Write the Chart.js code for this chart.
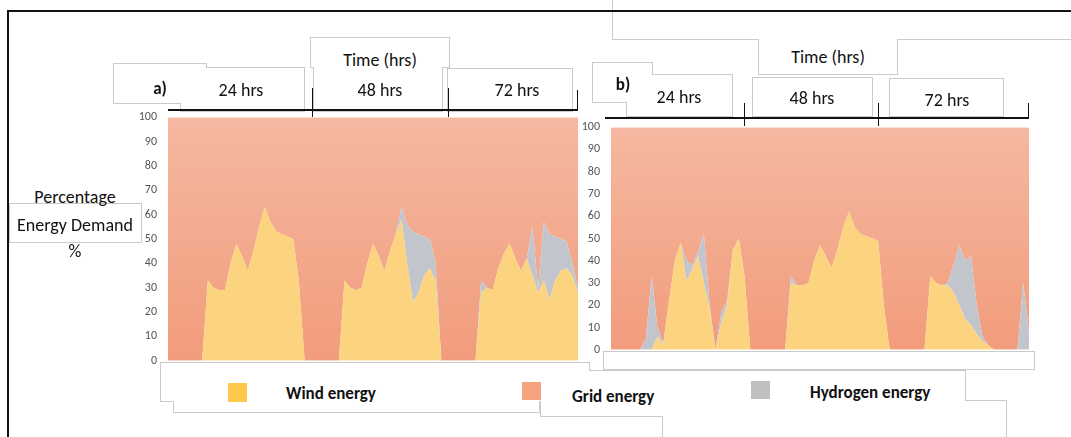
<!DOCTYPE html>
<html>
<head>
<meta charset="utf-8">
<script src="https://cdn.jsdelivr.net/npm/chart.js@4.4.1/dist/chart.umd.min.js"></script>
<style>
  html, body { margin:0; padding:0; background:#fff; }
  body { width:1071px; height:437px; position:relative; overflow:hidden;
         font-family:"Carlito","Liberation Sans Narrow","Liberation Sans",sans-serif; color:#111; }
  .bx { position:absolute; box-sizing:border-box; border:1px solid #cbcbcb; background:#fff; }
  .fl { position:absolute; background:#fff; }
  .t { position:absolute; white-space:nowrap; transform:translate(-50%,-50%); font-size:18px; line-height:1; z-index:5; }
  .tl { position:absolute; white-space:nowrap; transform:translate(0,-50%); font-size:17px; font-weight:bold; line-height:1; z-index:5; }
  canvas { position:absolute; z-index:3; }
  .ln { position:absolute; background:#111; z-index:4; }
</style>
</head>
<body>
<canvas id="ca" width="460" height="280" style="left:120px; top:99px;"></canvas>
<canvas id="cb" width="471" height="259" style="left:560px; top:109px;"></canvas>
<script>
// ---------- data (hourly, 0..72 h) ----------
const hours = Array.from({length: 73}, (_, i) => String(i));
const yTicks = [0,10,20,30,40,50,60,70,80,90,100];

// a) scenario
const aWind = [0,0,0,0,0,0,0,
  33,30,29,29,40,48,43,37,45,55,63,57,53,52,51,50,32,
  0,0,0,0,0,0,0,
  33,30,29,30,40,48,43,37,45,52,58,40,24,28,35,38,33,
  0,0,0,0,0,0,0,
  28,30,29,38,44,48,42,37,42,35,28,33,25,33,37,38,35,28];
const aHydrogen = [0,0,0,0,0,0,0,
  0,0,0,0,0,0,0,0,0,0,0,0,0,0,0,0,0,
  0,0,0,0,0,0,0,
  0,0,0,0,0,0,0,0,0,0,5,16,29,24,16,12,7,
  0,0,0,0,0,0,0,
  5,0,0,0,0,0,0,0,0,20,2,24,27,18,13,11,5,2];
const aGrid = [100,100,100,100,100,100,100,
  67,70,71,71,60,52,57,63,55,45,37,43,47,48,49,50,68,
  100,100,100,100,100,100,100,
  67,70,71,70,60,52,57,63,55,48,37,44,47,48,49,50,60,
  100,100,100,100,100,100,100,
  67,70,71,62,56,52,58,63,58,45,70,43,48,49,50,51,60,70];

// b) scenario
const bWind = [0,0,0,0,0,0,
  0,0,6,2,22,40,48,31,36,42,30,18,0,12,20,45,50,33,
  0,0,0,0,0,0,0,
  30,29,29,30,40,47,42,37,45,55,62,55,52,51,50,49,20,
  0,0,0,0,0,0,0,
  33,30,29,29,26,20,14,11,7,4,2,0,0,0,0,0,0,0];
const bHydrogen = [0,0,0,0,0,0,
  5,33,4,1,0,0,0,9,2,2,22,2,0,5,2,0,0,0,
  0,0,0,0,0,0,0,
  3,0,0,0,0,0,0,0,0,0,0,0,0,0,0,0,0,
  0,0,0,0,0,0,0,
  0,0,0,1,12,27,26,31,13,2,0,0,0,0,0,0,30,8];
const bGrid = [100,100,100,100,100,100,
  95,67,90,97,78,60,52,60,62,56,48,80,100,83,78,55,50,67,
  100,100,100,100,100,100,100,
  67,71,71,70,60,53,58,63,55,45,38,45,48,49,50,51,80,
  100,100,100,100,100,100,100,
  67,70,71,70,62,53,60,58,80,94,98,100,100,100,100,100,70,92];

const seriesNames = ['Wind energy', 'Hydrogen energy', 'Grid energy'];
const colWind = '#fcd37e', colHyd = '#c2c5cc';

// ---------- decorations (frame, boxes, labels) ----------
function group(rects) {
  rects.forEach(r => {
    const d = document.createElement('div'); d.className = 'bx';
    Object.assign(d.style, {left:r[0]+'px', top:r[1]+'px', width:(r[2]-r[0])+'px', height:(r[3]-r[1])+'px', zIndex:1});
    document.body.appendChild(d);
  });
  rects.forEach(r => {
    const d = document.createElement('div'); d.className = 'fl';
    Object.assign(d.style, {left:(r[0]+1)+'px', top:(r[1]+1)+'px', width:(r[2]-r[0]-2)+'px', height:(r[3]-r[1]-2)+'px', zIndex:2});
    document.body.appendChild(d);
  });
}
function line(x, y, w, h) {
  const d = document.createElement('div'); d.className = 'ln';
  Object.assign(d.style, {left:x+'px', top:y+'px', width:w+'px', height:h+'px'});
  document.body.appendChild(d);
}
function text(s, x, y, cls, extra) {
  const d = document.createElement('div'); d.className = cls || 't'; d.textContent = s;
  Object.assign(d.style, {left:x+'px', top:y+'px'}, extra || {});
  document.body.appendChild(d);
}
function sq(x, y, w, h, c) {
  const d = document.createElement('div');
  Object.assign(d.style, {position:'absolute', left:x+'px', top:y+'px', width:w+'px', height:h+'px', background:c, zIndex:5});
  document.body.appendChild(d);
}

group([[113,63,207,104],[180,67,305,112]]);
group([[310,37,450,68],[313,66,443,112],[447,68,573,112]]);
group([[612,-5,1080,40],[758,38,898,75]]);
group([[592,62,653,103],[626,74,733,117]]);
group([[752,77,873,117]]);
group([[889,78,1004,117]]);
group([[9,203,142,243]]);
group([[160,362,590,402],[173,370,540,413],[540,370,966,417],[662,400,1007,450],[603,351,1035,370]]);

// outer black frame
line(7, 10, 1064, 2);
line(7, 10, 2, 427);

// top time axis a)
line(168, 109, 410, 2);
line(312, 88, 1, 29);
line(448, 88, 1, 29);
line(577, 90, 1, 21);
// top time axis b)
line(605, 117, 424, 2);
line(744, 103, 1, 23);
line(878, 103, 1, 23);
line(1028, 103, 1, 16);

text('a)', 160, 88, 't', {fontWeight:'bold', fontSize:'17px'});
text('24 hrs', 241, 90);
text('48 hrs', 380, 90);
text('72 hrs', 517, 90);
text('Time (hrs)', 380, 60);
text('b)', 623, 84, 't', {fontWeight:'bold', fontSize:'17px'});
text('24 hrs', 679, 97);
text('48 hrs', 812, 98);
text('72 hrs', 947, 100);
text('Time (hrs)', 828, 57);
text('Percentage', 75, 197);
text('Energy Demand', 75, 225);
text('%', 75, 251);

sq(228, 383, 19, 19, '#fdc84c');
sq(522, 382, 19, 18, '#f5a27f');
sq(751, 381, 19, 18, '#bfbfbf');
text('Wind energy', 286, 393, 'tl');
text('Grid energy', 572, 396, 'tl');
text('Hydrogen energy', 810, 392, 'tl');

// ---------- charts ----------
function gridFill(ctx) {
  const ch = ctx.chart, a = ch.chartArea;
  if (!a) return '#f4ab8c';
  const g = ch.ctx.createLinearGradient(0, a.top, 0, a.bottom);
  g.addColorStop(0, '#f5b8a0');
  g.addColorStop(1, '#f29c7c');
  return g;
}
function makeChart(id, wind, hyd, grid, axisWidth) {
  return new Chart(document.getElementById(id), {
    type: 'line',
    data: {
      labels: hours,
      datasets: [
        {label: seriesNames[0], data: wind, backgroundColor: colWind, fill: 'origin'},
        {label: seriesNames[1], data: hyd, backgroundColor: colHyd, fill: '-1'},
        {label: seriesNames[2], data: grid, backgroundColor: gridFill, fill: '-1'}
      ].map(d => Object.assign(d, {borderWidth: 0, pointRadius: 0, tension: 0, stack: 's'}))
    },
    options: {
      responsive: false, animation: false, devicePixelRatio: 1,
      layout: {padding: {top: 0, bottom: 0, right: 2, left: 0}},
      plugins: {legend: {display: false}, tooltip: {enabled: false}},
      scales: {
        x: {display: false, offset: false},
        y: {
          stacked: true, min: 0, max: 100,
          afterFit: s => { s.width = axisWidth; },
          afterBuildTicks: s => { s.ticks = yTicks.map(v => ({value: v})); },
          grid: {display: false, drawTicks: false},
          border: {display: false},
          ticks: {padding: 11, color: '#555', font: {family: 'Carlito, "Liberation Sans Narrow", sans-serif', size: 12}}
        }
      }
    }
  });
}
makeChart('ca', aWind, aHydrogen, aGrid, 48);
makeChart('cb', bWind, bHydrogen, bGrid, 51);
</script>
</body>
</html>
